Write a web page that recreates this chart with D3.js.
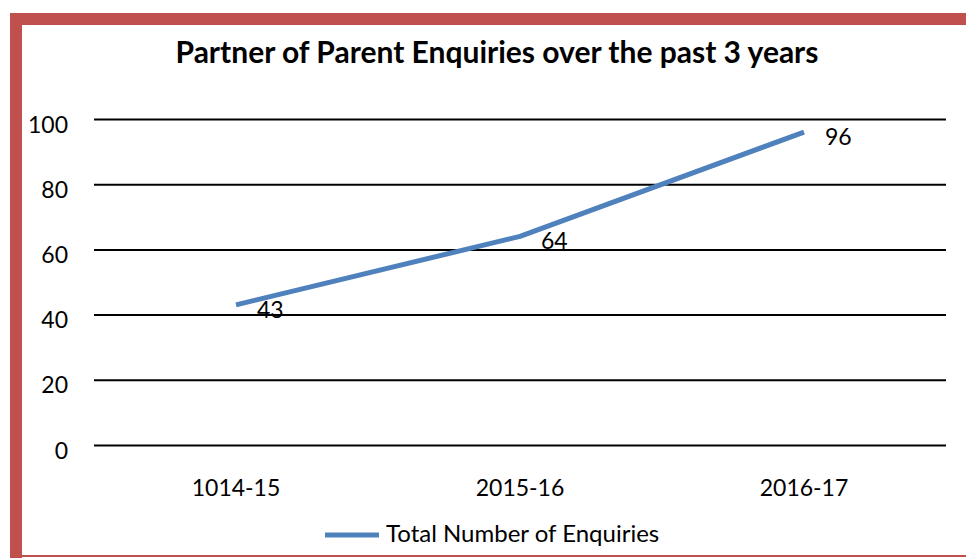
<!DOCTYPE html>
<html>
<head>
<meta charset="utf-8">
<script src="https://cdn.jsdelivr.net/npm/d3@7/dist/d3.min.js"></script>
<style>
  html, body { margin: 0; padding: 0; background: #fff; }
  svg { display: block; }
  text { font-family: Lato, "Open Sans", sans-serif; fill: #000; }
</style>
</head>
<body>
<svg id="chart" width="966" height="558"></svg>
<script>
// Enquiry totals by reporting year
const years = ["1014-15", "2015-16", "2016-17"];
const enquiries = [43, 64, 96];
const yTicks = [0, 20, 40, 60, 80, 100];
const chartTitle = "Partner of Parent Enquiries over the past 3 years";
const seriesName = "Total Number of Enquiries";

const W = 966, H = 558;
const svg = d3.select("#chart");

// Frame: thick band on top and left, thin line along the bottom
const frameColor = "#C0504D";
svg.append("rect").attr("x", 10).attr("y", 13).attr("width", W - 10).attr("height", 12).attr("fill", frameColor);
svg.append("rect").attr("x", 10).attr("y", 13).attr("width", 12).attr("height", H - 13).attr("fill", frameColor);
svg.append("rect").attr("x", 10).attr("y", 555).attr("width", W - 10).attr("height", 2).attr("fill", frameColor);

const plot = { left: 94, right: 946, top: 119, bottom: 445 };

const x = d3.scaleBand().domain(years).range([plot.left, plot.right]);
const y = d3.scaleLinear().domain([0, 100]).range([plot.bottom, plot.top]);

// Title
svg.append("text")
  .attr("x", 497).attr("y", 63)
  .attr("text-anchor", "middle")
  .style("font-weight", "bold").style("font-size", "30px")
  .text(chartTitle);

// Horizontal gridlines with value labels
const yAxis = d3.axisLeft(y).tickValues(yTicks).tickSize(-(plot.right - plot.left)).tickPadding(26);
const gy = svg.append("g").attr("transform", `translate(${plot.left},0)`).call(yAxis);
gy.select(".domain").remove();
gy.selectAll(".tick line").attr("stroke", "#000").attr("stroke-width", 2);
gy.selectAll(".tick text").attr("dy", null).attr("y", 13)
  .style("font-size", "23px").style("font-family", "Lato, sans-serif").attr("fill", "#000");

// Category labels
const xAxis = d3.axisBottom(x).tickSize(0);
const gx = svg.append("g").attr("transform", `translate(0,${plot.bottom})`).call(xAxis);
gx.select(".domain").remove();
gx.selectAll(".tick text").attr("dy", null).attr("y", 51)
  .style("font-size", "23px").style("font-family", "Lato, sans-serif").attr("fill", "#000");

// Series line
const cx = d => x(d) + x.bandwidth() / 2;
const pts = years.map((yr, i) => [cx(yr), y(enquiries[i])]);
svg.append("path")
  .datum(pts)
  .attr("d", d3.line())
  .attr("fill", "none")
  .attr("stroke", "#4F81BD")
  .attr("stroke-width", 5)
  .attr("stroke-linejoin", "round");

// Value labels to the right of each point
svg.selectAll(".val").data(years).join("text")
  .attr("class", "val")
  .attr("x", d => cx(d) + 21)
  .attr("y", (d, i) => y(enquiries[i]) + 13)
  .style("font-size", "23px")
  .text((d, i) => enquiries[i]);

// Legend
const lg = svg.append("g");
lg.append("line").attr("x1", 325).attr("x2", 379).attr("y1", 535).attr("y2", 535)
  .attr("stroke", "#4F81BD").attr("stroke-width", 5);
lg.append("text").attr("x", 386).attr("y", 542).style("font-size", "24px").text(seriesName);
</script>
</body>
</html>
